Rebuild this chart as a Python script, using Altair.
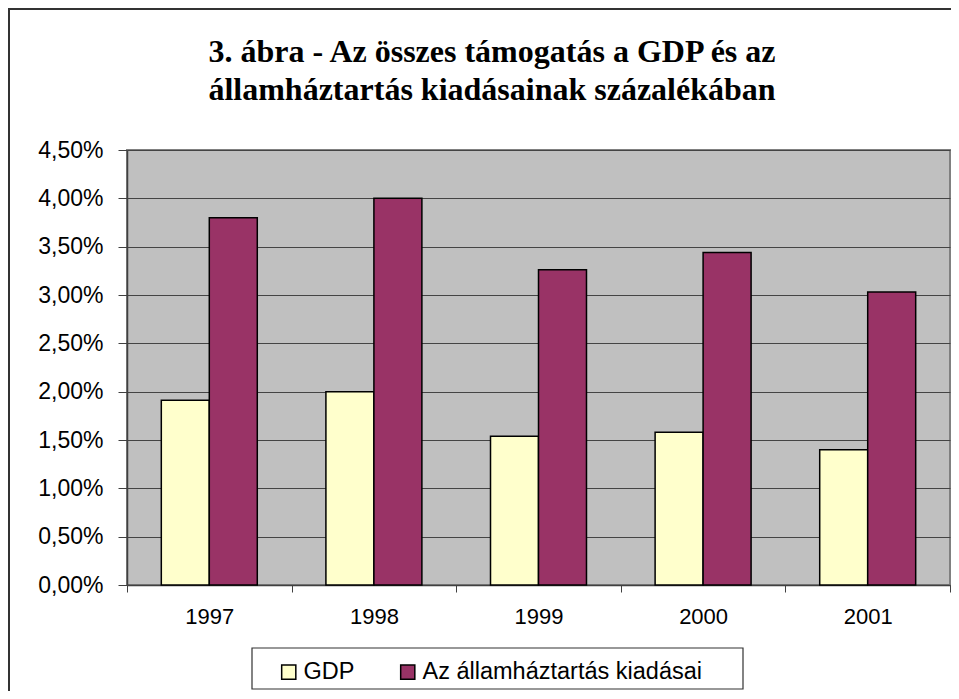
import altair as alt
import pandas as pd

years = ["1997", "1998", "1999", "2000", "2001"]
gdp = [1.91, 2.00, 1.54, 1.58, 1.40]
kiadasai = [3.80, 4.00, 3.26, 3.44, 3.03]
series = ["GDP", "Az államháztartás kiadásai"]
colors = ["#FFFFCC", "#993366"]
y_ticks = [0, 0.5, 1.0, 1.5, 2.0, 2.5, 3.0, 3.5, 4.0, 4.5]
title_lines = ["3. ábra - Az összes támogatás a GDP és az",
               "államháztartás kiadásainak százalékában"]

rows = []
for i, ev in enumerate(years):
    rows.append({"ev": ev, "sorozat": series[0], "ertek": gdp[i]})
    rows.append({"ev": ev, "sorozat": series[1], "ertek": kiadasai[i]})
df = pd.DataFrame(rows)

W, H = 823, 435
one = pd.DataFrame({"a": [0]})

frame = alt.Chart(one).mark_rect(fill="transparent", stroke="#333333", strokeWidth=2).encode(
    x=alt.value(-118), x2=alt.value(W + 100), y=alt.value(-141), y2=alt.value(H + 200)
)

legend_box = alt.Chart(one).mark_rect(fill="white", stroke="#333333", strokeWidth=1.2).encode(
    x=alt.value(125), x2=alt.value(616), y=alt.value(498), y2=alt.value(539)
)

title1 = alt.Chart(one).mark_text(
    font="Liberation Serif", fontSize=32, fontWeight="bold", color="black",
    align="center", baseline="alphabetic"
).encode(x=alt.value(365), y=alt.value(-88), text=alt.value(title_lines[0]))

title2 = alt.Chart(one).mark_text(
    font="Liberation Serif", fontSize=32, fontWeight="bold", color="black",
    align="center", baseline="alphabetic"
).encode(x=alt.value(365), y=alt.value(-50), text=alt.value(title_lines[1]))

bars = alt.Chart(df).mark_bar(stroke="black", strokeWidth=1.5).encode(
    x=alt.X("ev:N", sort=years, title=None,
            scale=alt.Scale(paddingInner=0, paddingOuter=0),
            axis=alt.Axis(labelAngle=0, tickBand="extent", tickSize=7, tickColor="#404040",
                          domainColor="#404040", domainWidth=1.5, labelFontSize=22,
                          labelFont="Liberation Sans", labelColor="black", labelPadding=14,
                          grid=False)),
    xOffset=alt.XOffset("sorozat:N", sort=series,
                        scale=alt.Scale(paddingOuter=0.715, paddingInner=0)),
    y=alt.Y("ertek:Q", title=None, scale=alt.Scale(domain=[0, 4.5], nice=False),
            axis=alt.Axis(values=y_ticks,
                          labelExpr="replace(format(datum.value, '.2f'), '.', ',') + '%'",
                          tickSize=9, tickColor="#404040", domainColor="#404040",
                          domainWidth=1.5, labelPadding=15, labelFontSize=23,
                          labelFont="Liberation Sans", labelColor="black",
                          grid=True, gridColor="#444444", gridWidth=1)),
    color=alt.Color("sorozat:N", sort=series,
                    scale=alt.Scale(domain=series, range=colors),
                    legend=alt.Legend(orient="none", legendX=150, legendY=510,
                                      direction="horizontal", title=None,
                                      symbolType="square", symbolSize=200,
                                      symbolStrokeColor="black", symbolStrokeWidth=1.5,
                                      symbolOpacity=1, labelFontSize=23.5,
                                      labelFont="Liberation Sans", labelColor="black",
                                      labelOffset=3, columnPadding=41, padding=0,
                                      labelLimit=400))
)

chart = alt.layer(frame, legend_box, title1, title2, bars).properties(
    width=W, height=H,
    padding={"left": 119, "top": 142, "right": 1, "bottom": 106},
    autosize=alt.AutoSizeParams(type="none"),
    background="white",
).configure_view(fill="#C0C0C0", stroke="#808080", strokeWidth=2)

chart.save("out.html", embed_options={"renderer": "svg", "actions": False})
